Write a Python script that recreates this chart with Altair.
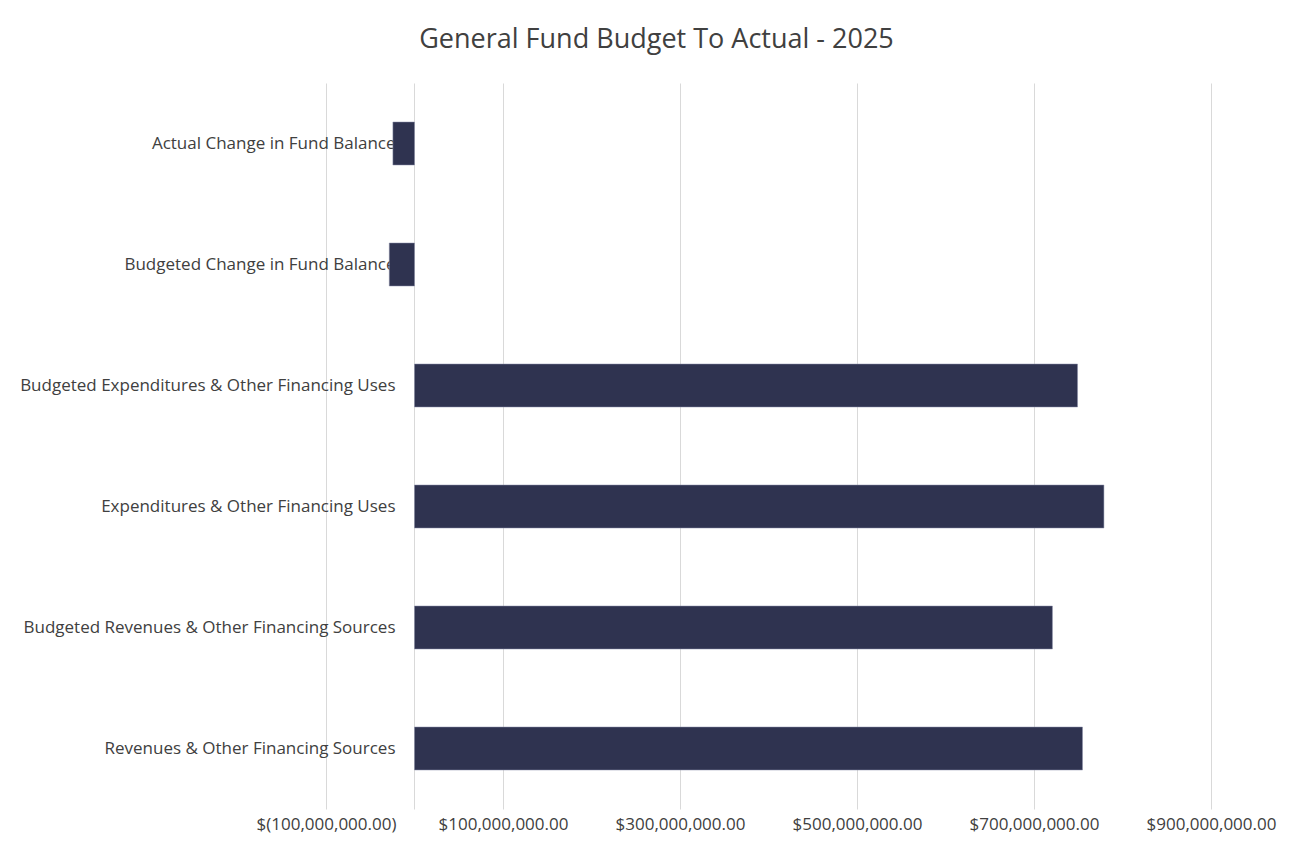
import altair as alt
import pandas as pd

categories = [
    "Actual Change in Fund Balance",
    "Budgeted Change in Fund Balance",
    "Budgeted Expenditures & Other Financing Uses",
    "Expenditures & Other Financing Uses",
    "Budgeted Revenues & Other Financing Sources",
    "Revenues & Other Financing Sources",
]
values = [-24_400_000, -28_500_000, 749_200_000, 779_000_000, 720_800_000, 754_800_000]
tick_values = [-100_000_000, 100_000_000, 300_000_000, 500_000_000, 700_000_000, 900_000_000]

df = pd.DataFrame({"category": categories, "value": values})

FONT = "Open Sans"
TEXT = "#404040"

label_expr = (
    "datum.value < 0 ? '$(' + format(-datum.value, ',.2f') + ')' "
    ": '$' + format(datum.value, ',.2f')"
)

chart = (
    alt.Chart(df)
    .mark_bar(color="#2F3350", size=43, stroke="#8A8FA8", strokeWidth=0.5)
    .encode(
        x=alt.X(
            "value:Q",
            scale=alt.Scale(domain=[-100_000_000, 900_000_000], nice=False, zero=False),
            axis=alt.Axis(
                values=tick_values,
                labelExpr=label_expr,
                title=None,
                domain=False,
                ticks=False,
                grid=True,
                gridColor="#D9D9D9",
                gridWidth=1,
                labelFont=FONT,
                labelFontSize=17,
                labelColor=TEXT,
                labelPadding=7,
                labelOverlap=False,
                labelFlush=False,
                labelBound=False,
            ),
        ),
        y=alt.Y(
            "category:N",
            sort=categories,
            scale=alt.Scale(paddingInner=0.64, paddingOuter=0.32),
            axis=alt.Axis(
                title=None,
                ticks=False,
                domain=True,
                domainColor="#D9D9D9",
                domainWidth=1,
                offset=-88,
                labelPadding=19,
                labelFont=FONT,
                labelFontSize=17,
                labelColor=TEXT,
                labelLimit=500,
            ),
        ),
    )
    .properties(
        width=885,
        height=726,
        title=alt.TitleParams(
            "General Fund Budget To Actual - 2025",
            font=FONT,
            fontSize=27,
            fontWeight="normal",
            color=TEXT,
            anchor="middle",
            dx=-112,
            offset=29,
        ),
        autosize=alt.AutoSizeParams(type="none"),
        padding={"left": 318, "top": 75, "right": 72, "bottom": 37},
    )
    .configure(background="white", view=alt.ViewConfig(stroke=None))
)

chart.save("out.html", embed_options={"renderer": "svg", "actions": False})
